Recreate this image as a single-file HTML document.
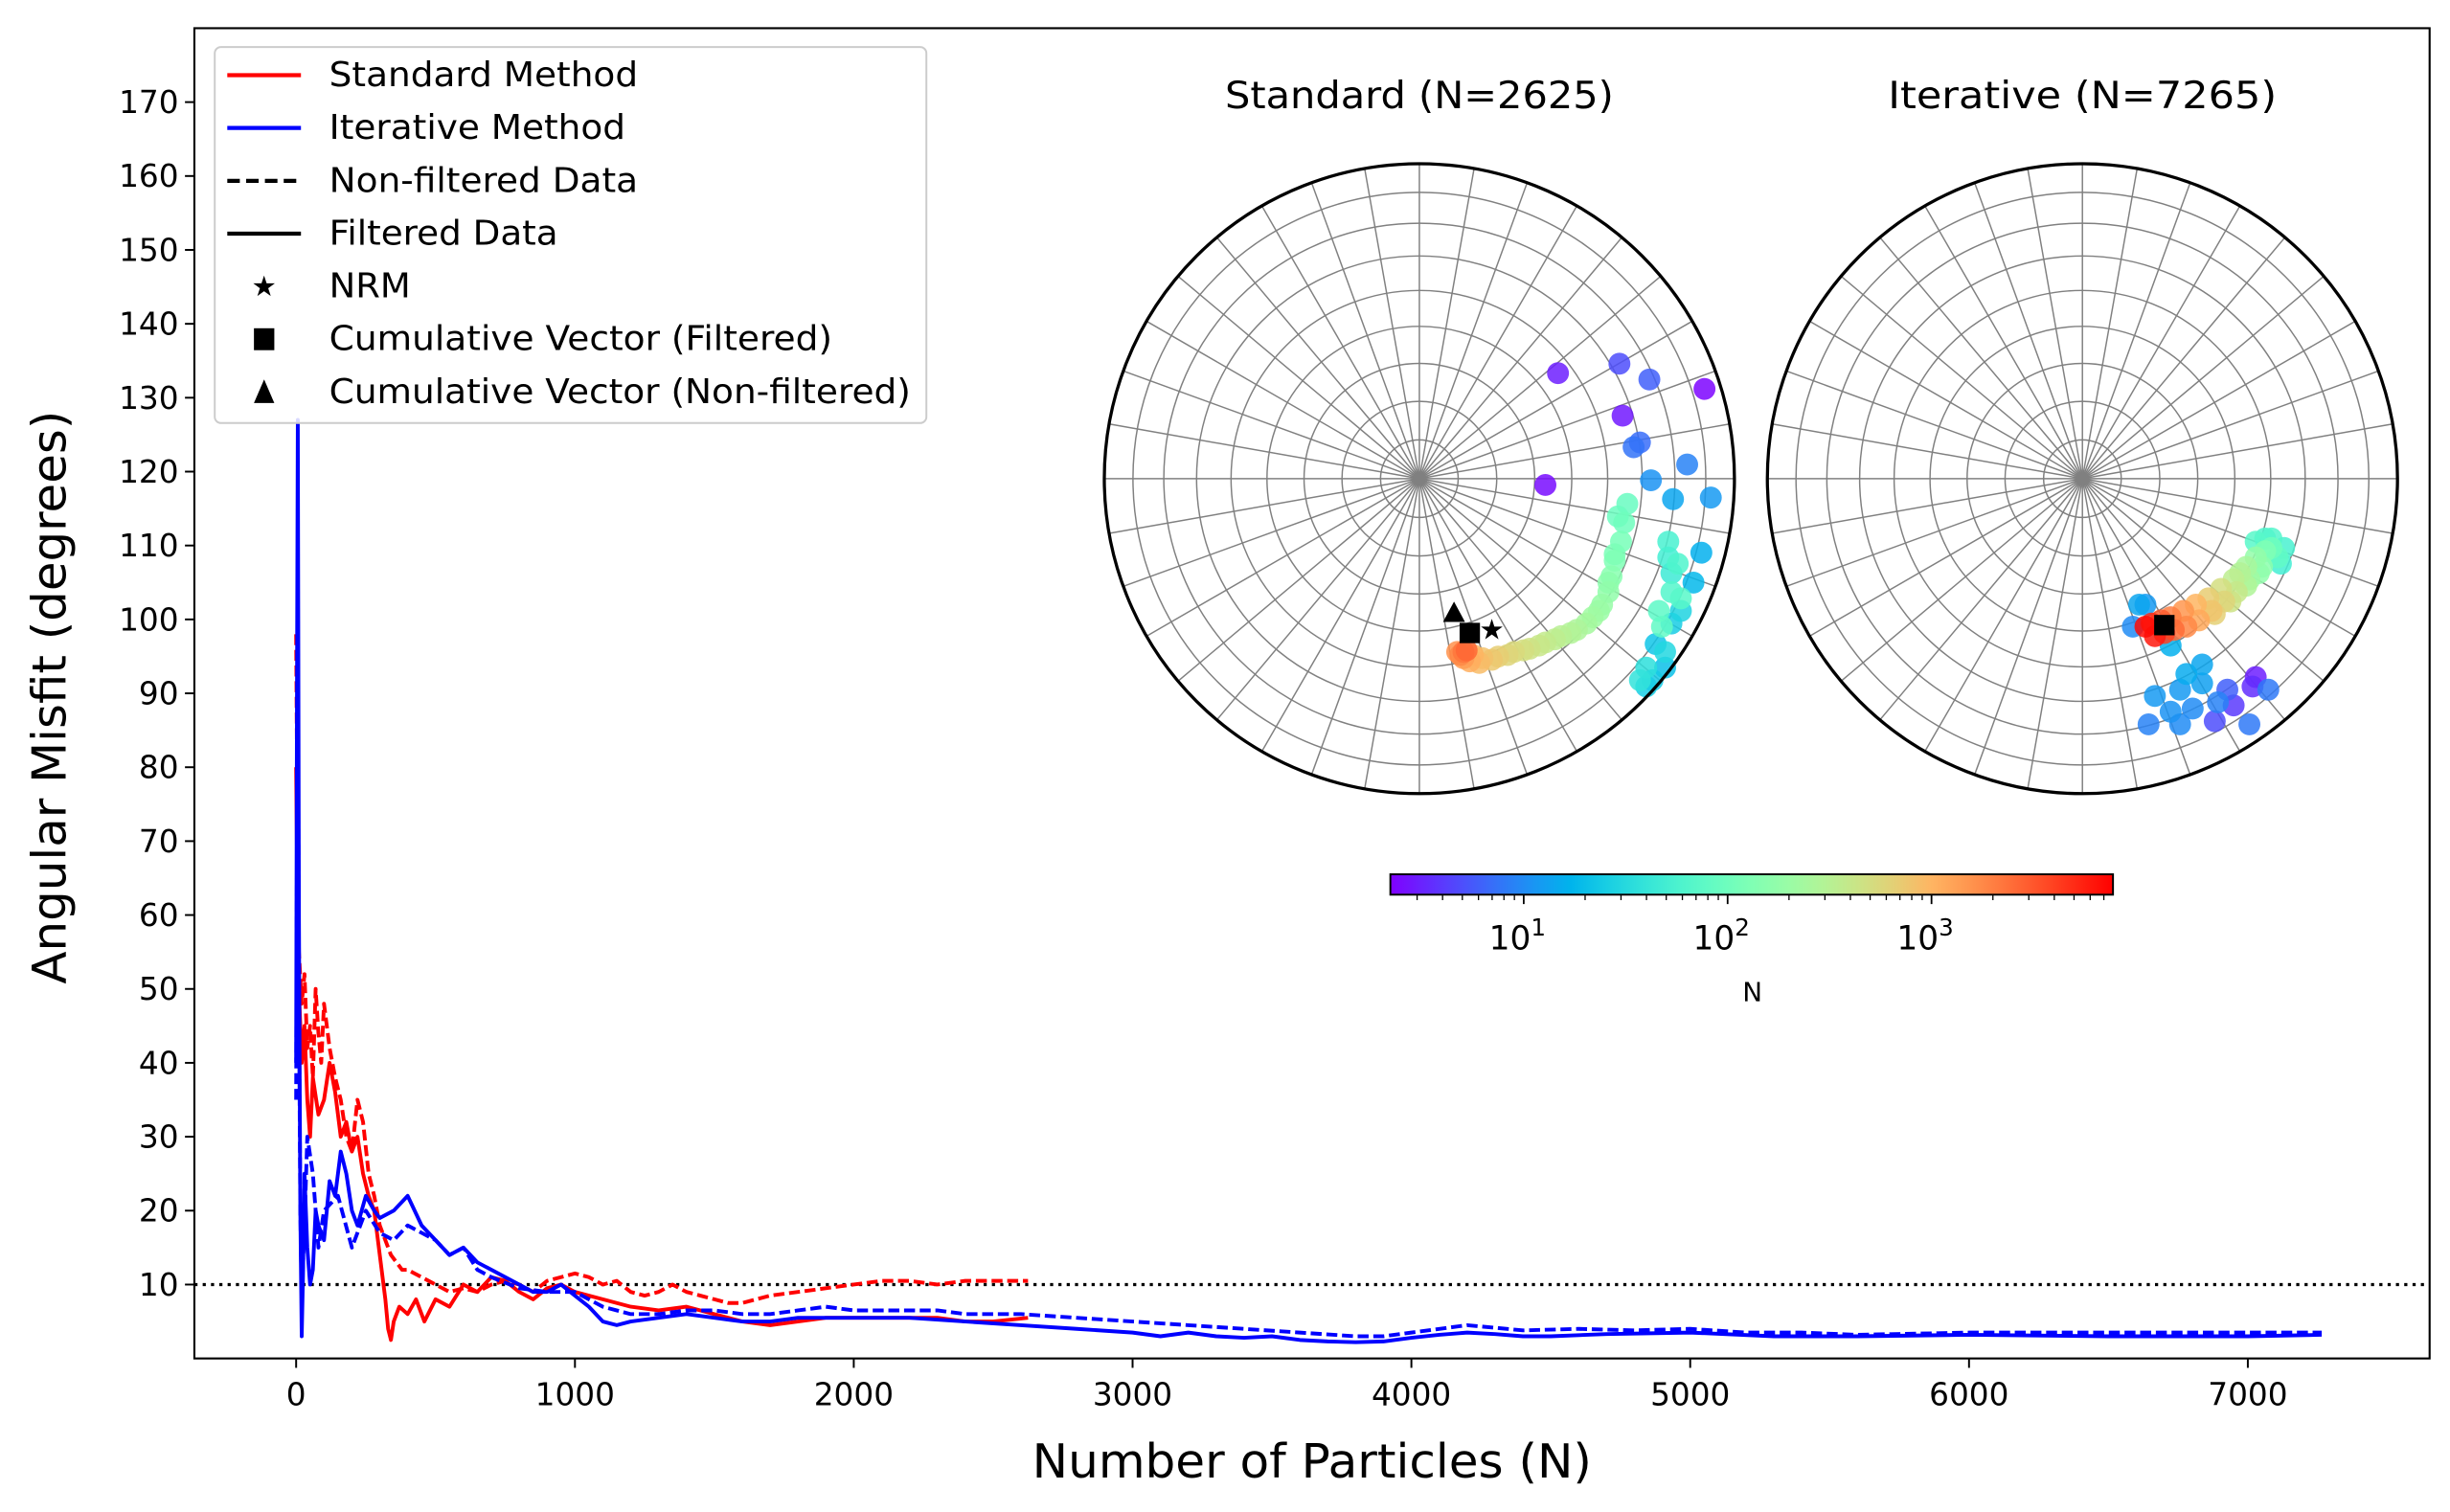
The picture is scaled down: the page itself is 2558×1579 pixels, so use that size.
<!DOCTYPE html>
<html><head><meta charset="utf-8"><style>
html,body{margin:0;padding:0;background:#fff;}
svg{display:block;font-family:"DejaVu Sans","Liberation Sans",sans-serif;}
</style></head><body>
<svg id="fig" width="2558" height="1579" viewBox="0 0 1563 965" preserveAspectRatio="none" xmlns="http://www.w3.org/2000/svg">
<defs><linearGradient id="cbg" x1="0" x2="1" y1="0" y2="0"></linearGradient>
<clipPath id="plotclip"><rect x="124" y="18" width="1426" height="849"/></clipPath></defs>
<rect x="0" y="0" width="1563" height="965" fill="#fff"/>
<g id="main"></g>
<g id="polars"></g>
<g id="legend"></g>
</svg>
<script>
// ---------- main chart data ----------
const stdNonFiltN=[0,5,10,20,30,40,50,60,70,80,90,100,120,140,160,180,200,220,240,260,280,300,320,340,360,380,400,450,500,550,600,650,700,750,800,850,900,950,1000,1050,1100,1150,1200,1250,1300,1350,1400,1450,1500,1550,1600,1650,1700,1800,1900,2000,2100,2200,2300,2400,2500,2625];
const stdNonFiltV=[98,70,55,48,52,42,45,38,50,44,40,48,42,38,35,30,28,35,32,25,22,18,16,14,13,12,12,11,10,9,9.5,9,10,10.5,10,9,10.5,11,11.5,11,10,10.5,9,8.5,9,10,9,8.5,8,7.5,7.5,8,8.5,9,9.5,10,10.5,10.5,10,10.5,10.5,10.5];
const stdFiltN=[0,5,10,20,30,40,50,60,80,100,120,140,160,180,200,220,240,260,280,300,320,330,340,350,370,400,430,460,500,550,600,650,700,750,800,850,900,950,1000,1100,1200,1300,1400,1500,1600,1700,1800,1900,2000,2100,2200,2300,2400,2500,2625];
const stdFiltV=[80,60,50,40,45,35,30,38,33,35,40,36,30,32,28,30,25,22,20,14,8,4,2.5,5,7,6,8,5,8,7,10,9,11,10.5,9,8,9.5,10,9,8,7,6.5,7,6,5,4.5,5,5.5,5.5,5.5,5.5,5.5,5,5,5.5];
const itFiltN=[0,3,6,10,15,20,25,30,40,50,60,70,80,100,120,140,160,180,200,220,250,280,300,350,400,450,500,550,600,650,700,750,800,850,900,950,1000,1050,1100,1150,1200,1300,1400,1500,1600,1700,1800,1900,2000,2200,2400,2600,2800,3000,3100,3200,3300,3400,3500,3600,3700,3800,3900,4000,4100,4200,4300,4400,4500,4700,5000,5300,5600,6000,6500,7000,7265];
const itFiltV=[40,90,127,60,20,3,12,25,15,10,12,20,18,16,24,22,28,25,20,18,22,20,19,20,22,18,16,14,15,13,12,11,10,9,9,10,8.5,7,5,4.5,5,5.5,6,5.5,5,5,5.5,5.5,5.5,5.5,5,4.5,4,3.5,3,3.5,3,2.8,3,2.5,2.3,2.2,2.3,2.8,3.2,3.5,3.3,3,3,3.3,3.5,3,3,3.2,3,3,3.2];
const itNonFiltN=[0,3,6,10,15,20,30,40,60,80,100,150,200,250,300,350,400,450,500,550,600,650,700,800,900,1000,1100,1200,1300,1400,1500,1600,1700,1800,1900,2000,2100,2200,2300,2400,2600,2800,3000,3200,3400,3600,3800,3900,4000,4100,4200,4400,4600,4800,5000,5200,5400,5600,6000,6500,7000,7265];
const itNonFiltV=[35,70,100,50,20,8,18,30,25,15,20,22,15,20,17,16,18,17,16,14,15,12,11,9.5,9,9,7,6,6,6.5,6.5,6,6,6.5,7,6.5,6.5,6.5,6.5,6,6,5.5,5,4.5,4,3.5,3,3,3.5,4,4.5,3.8,4,3.8,4,3.5,3.5,3.2,3.5,3.5,3.5,3.5];
const xTicks=[0,1000,2000,3000,4000,5000,6000,7000];
const yTicks=[10,20,30,40,50,60,70,80,90,100,110,120,130,140,150,160,170];
const threshold=10;
// ---------- stereonet data (equal-area projection, east/north fraction of radius) ----------
const stdEast=[.44,.40,.905,.645,.635,.73,.70,.68,.85,.735,.925,.805,.895,.87,.75,.80,.83,.78,.72,.70,.78,.72,.74,.80,.82,.79,.77,.76,.80,.83,.79,.66,.65,.64,.62,.61,.60,.57,.53,.48,.43,.38,.33,.28,.23,.19,.16,.14,.13,.14,.15,.63,.62,.60,.58,.55,.50,.45,.40,.35,.30,.25,.20,.17,.12];
const stdNorth=[.335,-.02,.285,.2,.365,.315,.115,.10,.045,-.005,-.06,-.065,-.235,-.33,-.525,-.46,-.42,-.55,-.6,-.64,-.6,-.66,-.64,-.3,-.27,-.2,-.47,-.42,-.36,-.38,-.25,-.08,-.14,-.2,-.26,-.31,-.36,-.42,-.46,-.49,-.51,-.53,-.545,-.56,-.575,-.585,-.58,-.57,-.56,-.55,-.545,-.12,-.24,-.33,-.40,-.44,-.48,-.50,-.52,-.54,-.55,-.565,-.57,-.56,-.55];
const stdCount=[3,2.5,2.3,2.8,5,6,7,7.5,9,11,12,14,16,18,22,25,28,30,35,38,20,25,24,45,60,55,80,75,65,70,50,90,100,115,130,150,175,200,240,290,350,420,500,600,750,900,1100,1400,1800,2200,2625,95,120,160,190,220,270,320,380,460,550,680,820,1000,1600];
const itEast=[.2,.16,.21,.28,.31,.35,.38,.43,.46,.53,.55,.59,.54,.48,.42,.38,.28,.33,.23,.31,.18,.62,.55,.58,.63,.6,.58,.55,.52,.5,.48,.44,.40,.36,.32,.28,.25,.22,.2,.60,.64,.57,.53,.49,.45,.41,.37,.33,.29,.26,.23,.56,.52,.47,.42];
const itNorth=[-.4,-.47,-.78,-.74,-.67,-.73,-.65,-.71,-.67,-.78,-.63,-.67,-.66,-.72,-.77,-.59,-.53,-.62,-.69,-.78,-.4,-.25,-.2,-.19,-.27,-.22,-.23,-.25,-.28,-.3,-.32,-.35,-.38,-.40,-.42,-.44,-.45,-.46,-.47,-.19,-.22,-.28,-.32,-.36,-.39,-.42,-.45,-.47,-.48,-.49,-.50,-.30,-.34,-.39,-.43];
const itCount=[12,10,9,11,12,10,13,9,6,8,3,8,3.5,4,5,14,16,15,12,10,14,80,70,60,50,100,130,180,250,300,350,500,700,1000,1500,2000,3000,5000,7000,65,55,160,220,400,600,800,1200,1800,2500,4000,6000,170,280,450,650];
const stdMarkers={tri:[.11,-.43],sq:[.16,-.49],star:[.23,-.48]};
const itMarkers={sq:[.26,-.465]};
const cbTicks=[1,2,3];

const NS="http://www.w3.org/2000/svg";
function mk(tag,attrs,parent){const e=document.createElementNS(NS,tag);for(const k in attrs)e.setAttribute(k,attrs[k]);if(parent)parent.appendChild(e);return e;}
const X0=124,X1=1550,Y0=18,Y1=867,XMIN=-365,XMAX=7652,YMIN=0,YMAX=180;
const xs=v=>X0+(v-XMIN)/(XMAX-XMIN)*(X1-X0);
const ys=v=>Y1-(v-YMIN)/(YMAX-YMIN)*(Y1-Y0);
const main=document.getElementById('main');
let th=mk('line',{x1:X0,x2:X1,y1:ys(threshold),y2:ys(threshold),stroke:'#000','stroke-width':2,'stroke-dasharray':'2,3.3'},main);


function series(N,V,color,dash,name){
  const d=N.map((n,i)=>(i?'L':'M')+xs(n).toFixed(2)+','+ys(V[i]).toFixed(2)).join(' ');
  const p=mk('path',{d:d,fill:'none',stroke:color,'stroke-width':2.4,'stroke-linejoin':'round','clip-path':'url(#plotclip)'},main);
  if(dash)p.setAttribute('stroke-dasharray','7,3');
  
  
}
series(stdNonFiltN,stdNonFiltV,'#ff0000',true,'standard-nonfiltered-line');
series(stdFiltN,stdFiltV,'#ff0000',false,'standard-filtered-line');
series(itNonFiltN,itNonFiltV,'#0000ff',true,'iterative-nonfiltered-line');
series(itFiltN,itFiltV,'#0000ff',false,'iterative-filtered-line');
let fr=mk('rect',{x:X0,y:Y0,width:X1-X0,height:Y1-Y0,fill:'none',stroke:'#000','stroke-width':1.3},main);


xTicks.forEach(t=>{
  mk('line',{x1:xs(t),x2:xs(t),y1:Y1,y2:Y1+6,stroke:'#000','stroke-width':1.2},main);
  const tx=mk('text',{x:xs(t),y:Y1+30,'font-size':20,'text-anchor':'middle'},main);tx.textContent=t;
  
  
});
yTicks.forEach(t=>{
  mk('line',{x1:X0-6,x2:X0,y1:ys(t),y2:ys(t),stroke:'#000','stroke-width':1.2},main);
  const tx=mk('text',{x:X0-10,y:ys(t)+7,'font-size':20,'text-anchor':'end'},main);tx.textContent=t;
  
  
});
let xl=mk('text',{x:837,y:943,'font-size':30,'text-anchor':'middle',textLength:357,lengthAdjust:'spacingAndGlyphs'},main);xl.textContent='Number of Particles (N)';


let yl=mk('text',{x:0,y:0,'font-size':30,'text-anchor':'middle',textLength:366,lengthAdjust:'spacingAndGlyphs',transform:'translate(42,445) rotate(-90)'},main);yl.textContent='Angular Misfit (degrees)';



const LMIN=0.346,LMAX=3.89;
function rainbow(t){t=Math.max(0,Math.min(1,t));
  const r=Math.min(1,Math.abs(2*t-0.5)),g=Math.sin(Math.PI*t),b=Math.cos(Math.PI*t/2);
  return 'rgb('+Math.round(r*255)+','+Math.round(g*255)+','+Math.round(b*255)+')';}
const cnorm=n=>(Math.log10(n)-LMIN)/(LMAX-LMIN);

const polars=document.getElementById('polars');
function stereonet(cx,cy,R,title,E,Nn,C,markers,name){
  const g=mk('g',{},polars);
  
  
  mk('circle',{cx:cx,cy:cy,r:R,fill:'#fff'},g);
  for(let a=0;a<360;a+=10){const r=a*Math.PI/180;
    mk('line',{x1:cx,y1:cy,x2:cx+R*Math.sin(r),y2:cy-R*Math.cos(r),stroke:'#808080','stroke-width':0.9},g);}
  for(let inc=10;inc<90;inc+=10){const rr=Math.SQRT2*Math.sin((90-inc)/2*Math.PI/180)*R;
    mk('circle',{cx:cx,cy:cy,r:rr,fill:'none',stroke:'#808080','stroke-width':0.9},g);}
  const order=C.map((c,i)=>i).sort((a,b)=>C[a]-C[b]);
  order.forEach(i=>{const c=mk('circle',{cx:cx+E[i]*R,cy:cy-Nn[i]*R,r:7,fill:rainbow(cnorm(C[i])),'fill-opacity':0.85},g);
    
    });
  if(markers.tri){const[x,y]=[cx+markers.tri[0]*R,cy-markers.tri[1]*R];
    const m=mk('polygon',{points:`${x},${y-8} ${x-7},${y+5} ${x+7},${y+5}`,fill:'#000'},g);
    
    }
  if(markers.sq){const[x,y]=[cx+markers.sq[0]*R,cy-markers.sq[1]*R];
    const m=mk('rect',{x:x-6.5,y:y-6.5,width:13,height:13,fill:'#000'},g);
    
    }
  if(markers.star){const[x,y]=[cx+markers.star[0]*R,cy-markers.star[1]*R];
    const m=mk('text',{x:x,y:y+6,'font-size':18,'text-anchor':'middle'},g);m.textContent='★';
    
    }
  mk('circle',{cx:cx,cy:cy,r:R,fill:'none',stroke:'#000','stroke-width':2},g);
  const t=mk('text',{x:cx,y:69,'font-size':24,'text-anchor':'middle',textLength:248,lengthAdjust:'spacingAndGlyphs'},g);t.textContent=title;
  
  
}
stereonet(905.5,305.5,201,'Standard (N=2625)',stdEast,stdNorth,stdCount,stdMarkers,'standard-stereonet');
stereonet(1328.5,305.5,201,'Iterative (N=7265)',itEast,itNorth,itCount,itMarkers,'iterative-stereonet');

const grad=document.getElementById('cbg');
for(let i=0;i<=20;i++){mk('stop',{offset:(i/20),'stop-color':rainbow(i/20)},grad);}
const CB0=887,CB1=1348;
const cbx=l=>CB0+(l-LMIN)/(LMAX-LMIN)*(CB1-CB0);
const cb=mk('rect',{x:CB0,y:558,width:CB1-CB0,height:13,fill:'url(#cbg)',stroke:'#000','stroke-width':1.2},polars);


cbTicks.forEach(l=>{mk('line',{x1:cbx(l),x2:cbx(l),y1:571,y2:577,stroke:'#000','stroke-width':1.1},polars);
  const t=mk('text',{x:cbx(l)-4,y:606,'font-size':21,'text-anchor':'middle'},polars);
  t.appendChild(document.createTextNode('10'));
  const s=mk('tspan',{'font-size':15,dy:-9},t);s.textContent=l;
  
  });
for(let d=0;d<4;d++)for(let k=2;k<10;k++){const l=d+Math.log10(k);if(l<LMIN||l>LMAX)continue;
  mk('line',{x1:cbx(l),x2:cbx(l),y1:571,y2:574.5,stroke:'#000','stroke-width':0.8},polars);}
const cl=mk('text',{x:1118,y:639,'font-size':17,'text-anchor':'middle'},polars);cl.textContent='N';



const lg=document.getElementById('legend');
mk('rect',{x:137,y:30,width:454,height:240,rx:4,fill:'#fff','fill-opacity':0.85,stroke:'#cccccc','stroke-width':1.2},lg);
const entries=[['line','#ff0000',false,'Standard Method',197],['line','#0000ff',false,'Iterative Method',189],['line','#000',true,'Non-filtered Data',197],['line','#000',false,'Filtered Data',146],['star','#000',false,'NRM',52],['sq','#000',false,'Cumulative Vector (Filtered)',321],['tri','#000',false,'Cumulative Vector (Non-filtered)',371]];
entries.forEach((en,i)=>{const y=48+i*33.7;
  const g=mk('g',{},lg);
  
  
  if(en[0]==='line'){const l=mk('line',{x1:145,x2:192,y1:y,y2:y,stroke:en[1],'stroke-width':2.6},g);if(en[2])l.setAttribute('stroke-dasharray','8,4');}
  else if(en[0]==='star'){const t=mk('text',{x:168.5,y:y+6,'font-size':18,'text-anchor':'middle'},g);t.textContent='★';}
  else if(en[0]==='sq'){mk('rect',{x:162,y:y-7,width:13,height:14,fill:'#000'},g);}
  else {mk('polygon',{points:`168.5,${y-8} 162,${y+7} 175,${y+7}`,fill:'#000'},g);}
  const t=mk('text',{x:210,y:y+7,'font-size':22,textLength:en[4],lengthAdjust:'spacingAndGlyphs'},g);t.textContent=en[3];});
</script>
</body></html>
